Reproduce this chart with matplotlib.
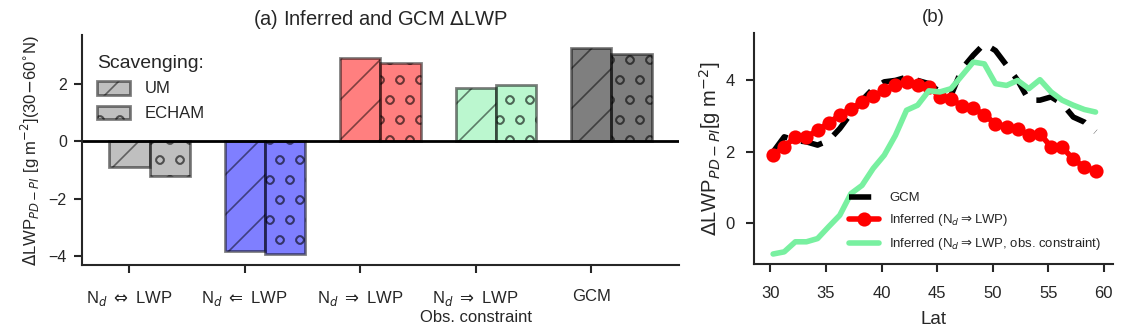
import matplotlib.pyplot as plt
import numpy as np
import seaborn as sns
from matplotlib.patches import Patch

sns.set_style("ticks")
plt.rcParams["font.family"] = ["Liberation Sans", "DejaVu Sans"]

# the original was drawn at a coarser scale, so the hatches are bigger:
# render at dpi 120 and shrink every size given in points by k
DPI = 120
k = 100 / DPI
plt.rcParams["hatch.linewidth"] = 1.2 * k
plt.rcParams["axes.linewidth"] = 1.5 * k

# panel (a)
groups = [r"N$_d$ $\Leftrightarrow$ LWP", r"N$_d$ $\Leftarrow$ LWP", r"N$_d$ $\Rightarrow$ LWP",
          "N$_d$ $\\Rightarrow$ LWP\nObs. constraint", "GCM"]
um = [-0.90, -3.82, 2.91, 1.85, 3.24]
echam = [-1.21, -3.93, 2.72, 1.97, 3.03]
bar_colors = ["grey", "blue", "red", "#78f0a0", "black"]

# panel (b)
lat = [30.25, 31.25, 32.25, 33.25, 34.25, 35.25, 36.25, 37.25, 38.25, 39.25,
       40.25, 41.25, 42.25, 43.25, 44.25, 45.25, 46.25, 47.25, 48.25, 49.25,
       50.25, 51.25, 52.25, 53.25, 54.25, 55.25, 56.25, 57.25, 58.25, 59.25]
gcm = [1.99, 2.41, 2.31, 2.27, 2.18, 2.31, 2.64, 3.06, 3.43, 3.75,
       3.94, 3.98, 4.07, 3.98, 3.89, 3.66, 3.56, 4.31, 4.68, 5.00,
       4.81, 4.40, 3.98, 3.43, 3.43, 3.52, 3.33, 2.96, 2.82, 2.55]
inferred = [1.90, 2.13, 2.41, 2.41, 2.59, 2.80, 3.01, 3.19, 3.38, 3.54,
            3.70, 3.84, 3.94, 3.84, 3.81, 3.52, 3.47, 3.26, 3.22, 3.01,
            2.78, 2.69, 2.64, 2.45, 2.50, 2.13, 2.13, 1.78, 1.57, 1.46]
inferred_obs = [-0.85, -0.79, -0.51, -0.51, -0.42, -0.09, 0.23, 0.83, 1.06, 1.53,
                1.90, 2.45, 3.15, 3.29, 3.69, 3.66, 3.75, 4.12, 4.49, 4.44,
                3.89, 3.84, 3.98, 3.75, 4.00, 3.66, 3.43, 3.29, 3.17, 3.10]

fig = plt.figure(figsize=(1124 / DPI, 333 / DPI), dpi=DPI)
ax1 = fig.add_axes([0.073, 0.204, 0.531, 0.691])
ax2 = fig.add_axes([0.671, 0.207, 0.319, 0.694])

w = 0.35
x = np.arange(len(groups))
for i in range(len(groups)):
    ax1.bar(x[i], um[i], w, color=bar_colors[i], alpha=0.5, edgecolor="black",
            linewidth=2 * k, hatch="/")
    ax1.bar(x[i] + w, echam[i], w, color=bar_colors[i], alpha=0.5, edgecolor="black",
            linewidth=2 * k, hatch="o")
ax1.axhline(0, color="black", lw=2 * k)
ax1.set_xticks(x)
ax1.set_xticklabels(groups, fontsize=12 * k)
ax1.tick_params(axis="x", pad=11 * k, length=6 * k, width=1.5 * k)
ax1.tick_params(axis="y", labelsize=11.5 * k, length=6 * k, width=1.5 * k, pad=5 * k)
ax1.set_xlim(-0.41, 4.76)
ax1.set_ylim(-4.3, 3.7)
ax1.set_yticks([-4, -2, 0, 2])
ax1.set_ylabel(r"$\Delta$LWP$_{PD-PI}$ [g m$^{-2}$](30$-$60$^{\circ}$N)", fontsize=12 * k)
ax1.set_title(r"(a) Inferred and GCM $\Delta$LWP", fontsize=14.5 * k, pad=7 * k)
handles = [Patch(facecolor="grey", alpha=0.5, edgecolor="black", linewidth=2 * k, hatch="/"),
           Patch(facecolor="grey", alpha=0.5, edgecolor="black", linewidth=2 * k, hatch="o")]
leg = ax1.legend(handles, ["UM", "ECHAM"], title="Scavenging:", loc="upper left",
                 frameon=False, fontsize=12 * k, title_fontsize=14 * k,
                 bbox_to_anchor=(0.0, 0.98), handlelength=2.0, handleheight=0.9,
                 labelspacing=0.55, handletextpad=0.85)
leg._legend_box.align = "left"
sns.despine(ax=ax1)

ax2.plot(lat, gcm, color="black", lw=4 * k, ls=(0, (4, 2.5)), label="GCM")
ax2.plot(lat, inferred, color="red", lw=4 * k, marker="o", ms=9 * k,
         label=r"Inferred (N$_d$$\Rightarrow$LWP)")
ax2.plot(lat, inferred_obs, color="#78f0a0", lw=4 * k,
         label=r"Inferred (N$_d$$\Rightarrow$LWP, obs. constraint)")
ax2.set_xlim(28.55, 60.8)
ax2.set_ylim(-1.13, 5.3)
ax2.set_yticks([0, 2, 4])
ax2.set_xticks([30, 35, 40, 45, 50, 55, 60])
ax2.tick_params(labelsize=12 * k, length=6 * k, width=1.5 * k)
ax2.tick_params(axis="x", pad=10 * k)
ax2.tick_params(axis="y", pad=8 * k)
ax2.set_xlabel("Lat", fontsize=13.5 * k, labelpad=7 * k)
ax2.set_ylabel(r"$\Delta$LWP$_{PD-PI}$[g m$^{-2}$]", fontsize=14.5 * k, labelpad=2 * k)
ax2.set_title("(b)", fontsize=13.5 * k, pad=8 * k)
ax2.legend(loc="lower right", frameon=False, fontsize=9.5 * k, bbox_to_anchor=(1.0, 0.0),
           handlelength=2.3, handletextpad=0.75, labelspacing=0.6)
sns.despine(ax=ax2)

fig.savefig("out.png", dpi=DPI)
